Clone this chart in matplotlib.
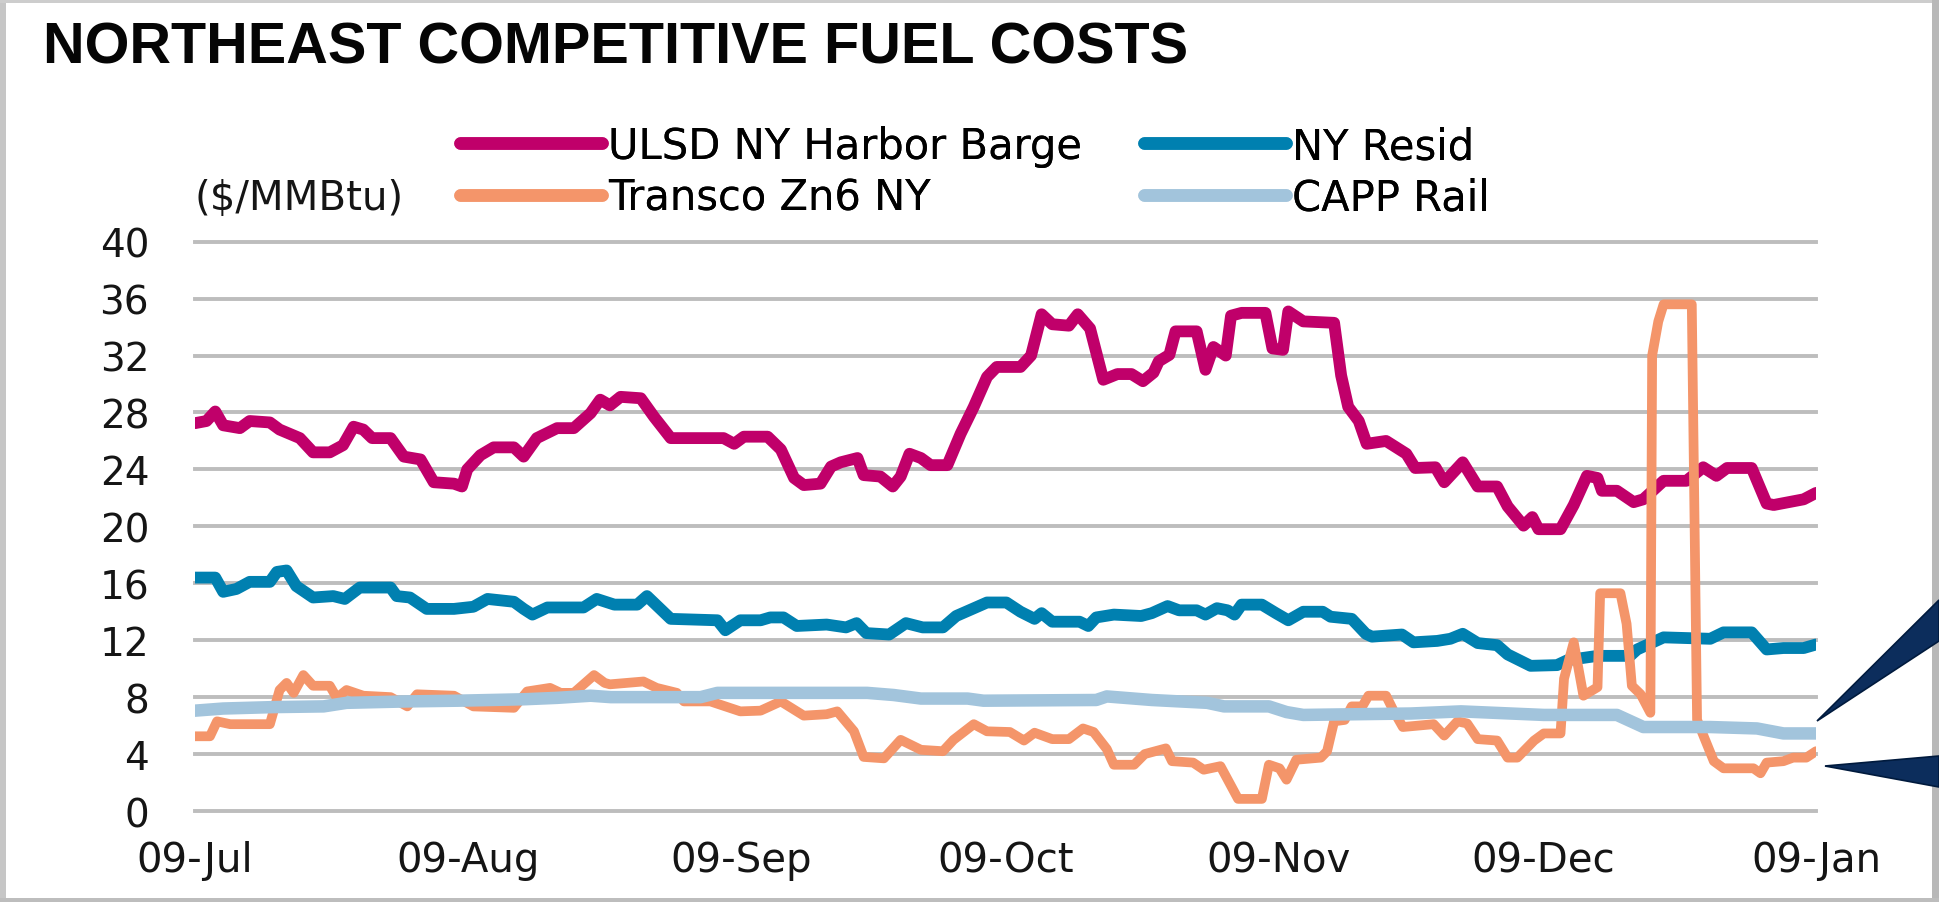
import matplotlib
matplotlib.use("Agg")
import matplotlib.pyplot as plt
import pandas as pd
from matplotlib.patches import Polygon, Rectangle

# ---------------- data ----------------
start_date = "2012-07-09"
tick_dates = ["2012-07-09", "2012-08-09", "2012-09-09", "2012-10-09",
              "2012-11-09", "2012-12-09", "2013-01-09"]
tick_labels = ["09-Jul", "09-Aug", "09-Sep", "09-Oct", "09-Nov", "09-Dec", "09-Jan"]
y_ticks = [0, 4, 8, 12, 16, 20, 24, 28, 32, 36, 40]

series_names = ["ULSD NY Harbor Barge", "NY Resid", "Transco Zn6 NY", "CAPP Rail"]

# day offsets from start_date and values ($/MMBtu)
ulsd_day = [0, 1.3, 2.3, 3.2, 5.1, 6.2, 8.5, 9.6, 11.9, 13.4, 15.3, 16.8, 18.0, 19.1,
            20.1, 22.2, 23.7, 25.6, 27.1, 29.4, 30.3, 30.9, 32.4, 33.9, 36.2, 37.3,
            38.8, 41.1, 43.0, 44.9, 46.0, 47.1, 48.3, 50.6, 52.1, 54.0, 60.0, 61.2,
            62.3, 65.0, 66.5, 68.0, 69.1, 71.0, 72.2, 73.3, 75.2, 75.9, 77.8, 79.2,
            80.1, 81.1, 82.4, 83.5, 85.4, 86.9, 88.4, 89.9, 91.0, 93.7, 94.9, 96.1,
            97.3, 99.2, 100.2, 101.6, 103.1, 104.7, 106.3, 107.6, 108.8, 109.4,
            110.6, 111.3, 113.7, 114.7, 115.6, 117.0, 117.6, 118.8, 121.5, 122.3,
            123.5, 124.1, 125.8, 129.3, 130.1, 130.9, 132.1, 133.0, 135.2, 137.5,
            138.5, 140.8, 141.8, 143.9, 145.6, 147.8, 149.0, 150.8, 151.8, 152.5,
            155.0, 156.5, 158.0, 159.2, 159.7, 161.4, 163.3, 164.4, 166.7, 169.3,
            171.2, 172.7, 173.9, 176.7, 178.4, 179.2, 182.6, 184.0]
ulsd_val = [27.25, 27.4, 28.07, 27.1, 26.9, 27.4, 27.3, 26.8, 26.2, 25.2, 25.2, 25.7,
            27.0, 26.8, 26.2, 26.2, 24.9, 24.7, 23.1, 23.0, 22.8, 24.0, 25.0, 25.55,
            25.55, 24.9, 26.2, 26.9, 26.9, 27.95, 28.9, 28.5, 29.1, 29.0, 27.7, 26.2,
            26.2, 25.8, 26.3, 26.3, 25.4, 23.4, 22.9, 23.0, 24.2, 24.5, 24.8, 23.6,
            23.5, 22.8, 23.5, 25.1, 24.8, 24.3, 24.3, 26.5, 28.4, 30.5, 31.2, 31.2,
            32.0, 34.9, 34.2, 34.1, 34.9, 33.9, 30.3, 30.7, 30.7, 30.2, 30.8, 31.6,
            32.05, 33.7, 33.7, 31.0, 32.6, 32.0, 34.8, 35.0, 35.0, 32.5, 32.4, 35.1,
            34.4, 34.3, 30.6, 28.4, 27.4, 25.8, 26.0, 25.1, 24.1, 24.15, 23.1, 24.5,
            22.8, 22.8, 21.4, 20.05, 20.65, 19.8, 19.8, 21.5, 23.55, 23.4, 22.5, 22.5,
            21.7, 21.9, 23.2, 23.2, 24.15, 23.55, 24.1, 24.1, 21.6, 21.5, 21.9, 22.35]

resid_day = [0, 2.3, 3.2, 4.7, 6.2, 8.5, 9.3, 10.4, 11.5, 13.4, 15.7, 17.0, 18.7, 22.2,
             22.9, 24.4, 26.3, 29.4, 31.6, 33.2, 36.2, 37.3, 38.3, 40.0, 44.1, 45.6,
             47.6, 50.2, 51.3, 54.0, 59.3, 60.2, 61.9, 64.2, 65.3, 66.8, 68.3, 71.7,
             73.9, 75.1, 76.2, 78.8, 80.7, 82.6, 84.9, 86.4, 89.9, 92.1, 93.7, 95.3,
             96.1, 97.3, 100.4, 101.4, 102.3, 104.3, 107.4, 108.6, 110.4, 111.7,
             113.7, 114.7, 116.0, 117.2, 118.0, 118.8, 121.1, 122.7, 124.1, 125.8,
             128.0, 128.9, 131.3, 132.9, 133.6, 137.0, 138.3, 141.0, 142.5, 143.9,
             145.6, 147.8, 149.0, 151.6, 154.6, 155.8, 159.2, 162.9, 163.7, 166.7,
             172.0, 173.5, 176.7, 178.4, 180.3, 182.6, 184.0]
resid_val = [16.4, 16.4, 15.4, 15.6, 16.1, 16.1, 16.8, 16.9, 15.8, 15.0, 15.1, 14.9,
             15.7, 15.7, 15.1, 15.0, 14.2, 14.2, 14.35, 14.9, 14.7, 14.2, 13.8, 14.3,
             14.3, 14.9, 14.5, 14.5, 15.1, 13.5, 13.4, 12.7, 13.4, 13.4, 13.6, 13.6,
             13.0, 13.1, 12.9, 13.2, 12.5, 12.4, 13.2, 12.9, 12.9, 13.7, 14.65, 14.65,
             14.0, 13.5, 13.9, 13.3, 13.3, 13.0, 13.6, 13.8, 13.7, 13.9, 14.4, 14.1,
             14.1, 13.8, 14.25, 14.1, 13.8, 14.5, 14.5, 13.9, 13.4, 14.0, 14.0, 13.65,
             13.5, 12.45, 12.25, 12.4, 11.85, 11.95, 12.1, 12.45, 11.8, 11.65, 11.0,
             10.2, 10.25, 10.6, 10.9, 10.9, 11.35, 12.2, 12.1, 12.55, 12.55, 11.35,
             11.45, 11.45, 11.7]

transco_day = [0, 1.7, 2.5, 4.0, 8.5, 9.6, 10.4, 11.2, 12.3, 13.4, 15.3, 16.1, 17.2,
               19.1, 22.2, 24.1, 25.2, 29.4, 31.6, 36.2, 37.7, 40.3, 41.5, 43.0, 45.3,
               46.5, 47.1, 50.9, 52.4, 54.7, 55.5, 58.5, 61.9, 64.2, 66.5, 69.1, 71.7,
               72.9, 74.8, 75.9, 78.2, 80.1, 82.4, 84.9, 86.1, 88.4, 89.9, 92.5, 93.7,
               94.1, 95.3, 97.3, 99.2, 100.8, 102.0, 103.5, 104.3, 106.6, 107.8, 110.2,
               110.9, 113.3, 114.5, 116.4, 118.4, 121.1, 121.9, 123.1, 123.9, 125.0,
               127.8, 128.5, 129.3, 130.5, 131.3, 132.5, 133.2, 135.2, 136.0, 137.1,
               140.6, 141.8, 143.3, 144.4, 145.6, 147.8, 149.0, 150.1, 152.0, 153.1,
               155.0, 155.4, 156.5, 157.6, 159.2, 159.5, 161.8, 162.5, 163.1, 164.1,
               165.2, 165.4, 166.1, 166.7, 169.9, 170.5, 172.4, 173.5, 176.9, 177.7,
               178.4, 180.3, 181.4, 182.9, 184.0]
transco_val = [5.25, 5.25, 6.3, 6.1, 6.1, 8.5, 9.0, 8.3, 9.55, 8.8, 8.8, 7.95, 8.5,
               8.1, 8.0, 7.35, 8.2, 8.1, 7.35, 7.25, 8.4, 8.65, 8.3, 8.3, 9.55, 9.0,
               8.9, 9.1, 8.65, 8.3, 7.7, 7.7, 7.0, 7.05, 7.7, 6.7, 6.8, 7.0, 5.6, 3.8,
               3.7, 5.0, 4.3, 4.2, 5.0, 6.1, 5.6, 5.55, 5.1, 4.95, 5.5, 5.05, 5.05,
               5.8, 5.55, 4.35, 3.25, 3.25, 4.0, 4.4, 3.5, 3.4, 2.9, 3.15, 0.85, 0.85,
               3.25, 3.0, 2.2, 3.6, 3.75, 4.2, 6.3, 6.4, 7.35, 7.35, 8.1, 8.1, 7.1,
               5.9, 6.1, 5.3, 6.3, 6.15, 5.05, 4.95, 3.75, 3.75, 4.95, 5.45, 5.45, 9.3,
               11.85, 8.1, 8.7, 15.3, 15.3, 13.15, 8.8, 8.2, 6.9, 32.0, 34.4, 35.6,
               35.6, 6.4, 3.5, 3.0, 3.0, 2.65, 3.4, 3.5, 3.75, 3.75, 4.2]

capp_day = [0, 3.2, 8.9, 14.6, 17.2, 24.1, 29.8, 37.3, 41.1, 44.9, 47.2, 57.4, 59.3,
            76.3, 79.3, 82.4, 87.7, 89.5, 102.3, 103.5, 108.6, 114.9, 116.8, 121.9,
            123.9, 125.8, 138.0, 143.7, 153.1, 161.4, 164.4, 172.0, 177.3, 180.3, 184.0]
capp_val = [7.05, 7.2, 7.3, 7.35, 7.6, 7.7, 7.75, 7.85, 7.95, 8.1, 8.0, 8.0, 8.3,
            8.3, 8.15, 7.9, 7.9, 7.75, 7.8, 8.05, 7.8, 7.6, 7.35, 7.35, 6.95, 6.75,
            6.85, 7.0, 6.75, 6.75, 5.9, 5.9, 5.8, 5.45, 5.45]

colors = ["#C0006A", "#0080B0", "#F4956A", "#A2C4DC"]
line_widths = [8.5, 8.5, 7.0, 9.0]

# ---------------- figure ----------------
W, H, DPI = 1939, 903, 100
plt.rcParams["font.family"] = ["DejaVu Sans"]
fig = plt.figure(figsize=(W / DPI, H / DPI), dpi=DPI)
fig.patch.set_facecolor("white")

def fx(px):
    return px / W

def fy(py):
    return 1 - py / H

ax_left, ax_right, ax_top, ax_bottom = 195, 1816, 242.7, 812
ax = fig.add_axes([fx(ax_left), fy(ax_bottom), (ax_right - ax_left) / W,
                   (ax_bottom - ax_top) / H])
ax.set_facecolor("none")

t0 = pd.Timestamp(start_date)
days = [ulsd_day, resid_day, transco_day, capp_day]
vals = [ulsd_val, resid_val, transco_val, capp_val]
lines = []
for name, d, v, c, lw in zip(series_names, days, vals, colors, line_widths):
    x = t0 + pd.to_timedelta(d, unit="D")
    ln, = ax.plot(x, v, color=c, lw=lw, solid_joinstyle="round",
                  solid_capstyle="round", label=name, zorder=3)
    lines.append(ln)

ax.set_xlim(pd.Timestamp(tick_dates[0]), pd.Timestamp(tick_dates[-1]))
ax.set_ylim(0, 40)
ax.set_yticks(y_ticks)
ax.set_yticklabels([str(t) for t in y_ticks])
ax.set_xticks(pd.to_datetime(tick_dates))
ax.set_xticklabels(tick_labels)
for s in ax.spines.values():
    s.set_visible(False)
ax.yaxis.grid(True, color="#bdbdbd", lw=2.8, zorder=1)
ax.xaxis.grid(False)
ax.set_axisbelow(True)
for gl in ax.get_ygridlines():
    gl.set_clip_on(False)
ax.tick_params(axis="y", length=0, pad=33, labelsize=28, labelcolor="#151515")
ax.tick_params(axis="x", length=0, pad=21, labelsize=29, labelcolor="#151515")

# legend: two columns, placed like the reference
leg_size = 30
em = leg_size * DPI / 72.0
positions = [(460, 147), (1144, 147), (460, 199), (1144, 199)]
for ln, (hx, hy) in zip(lines, positions):
    lg = fig.legend([ln], [ln.get_label()], loc="center left",
                    bbox_to_anchor=(fx(hx), fy(hy)), frameon=False,
                    borderpad=0, borderaxespad=0, handlelength=142 / em,
                    handletextpad=6 / em, fontsize=leg_size)
    for h in lg.get_lines():
        h.set_linewidth(9.0)
        h.set_solid_capstyle("round")
    fig.add_artist(lg)

fig.text(fx(194), fy(199), "($/MMBtu)", ha="left", va="center",
         fontsize=29, color="#151515")

fig.text(fx(43), fy(64), "NORTHEAST COMPETITIVE FUEL COSTS", ha="left",
         va="baseline", fontsize=41.5, fontweight="bold",
         family=["Liberation Sans", "DejaVu Sans"], color="#050505")

# callout pointers at the right edge
navy = "#0c2d5c"
for pts in ([(1817, 722), (1939, 601), (1939, 642)],
            [(1825, 767), (1939, 757), (1939, 788)]):
    fig.add_artist(Polygon([(fx(a), fy(b)) for a, b in pts], closed=True,
                           transform=fig.transFigure, facecolor=navy,
                           edgecolor="#001a3d", lw=1.2, zorder=5))

# frame of the screenshot
for (x0, y0, w, h, c) in [(0, 0, 6, H, "#c6c6c6"), (0, 0, W, 4, "#cdcdcd"),
                          (1932, 0, 7, H, "#b8b8b8"), (0, 899, W, 4, "#bdbdbd")]:
    fig.add_artist(Rectangle((fx(x0), fy(y0 + h)), w / W, h / H,
                             transform=fig.transFigure, facecolor=c,
                             edgecolor="none", zorder=4))

fig.savefig("out.png", dpi=DPI)
